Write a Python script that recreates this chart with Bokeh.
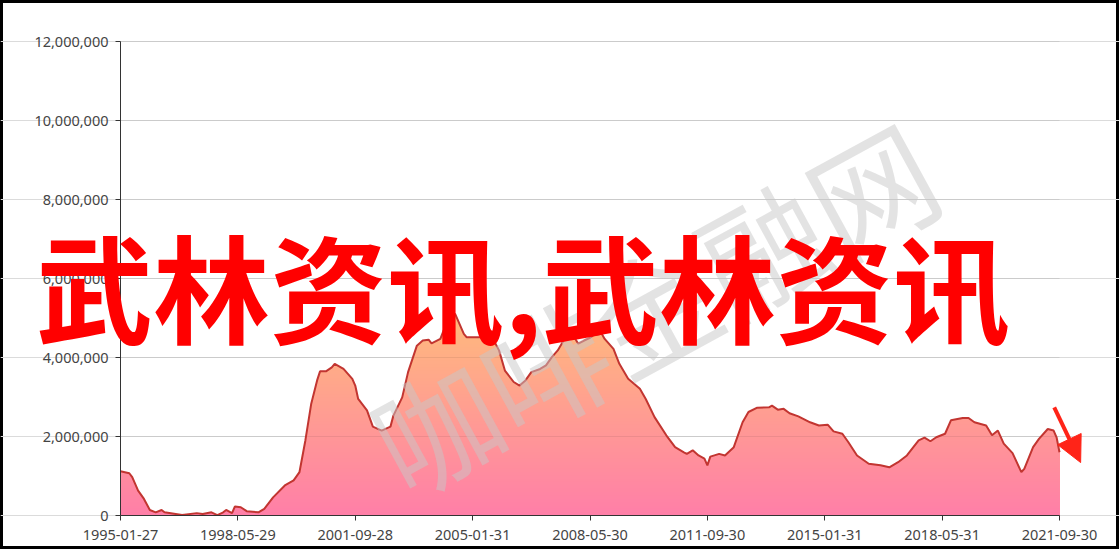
import numpy as np
from bokeh.plotting import figure
from bokeh.models import FixedTicker, NumeralTickFormatter, Label, Arrow, NormalHead
from bokeh.embed import file_html
from bokeh.resources import INLINE

# ---------------- data ----------------
MONTHS = [
    "1995-01", "1995-04", "1995-05", "1995-07", "1995-09", "1995-11", "1996-01", "1996-03", "1996-04", "1996-10",
    "1997-03", "1997-05", "1997-08", "1997-10", "1997-12", "1998-01", "1998-03", "1998-04", "1998-06", "1998-08",
    "1998-12", "1999-02", "1999-05", "1999-09", "1999-12", "2000-02", "2000-04", "2000-06", "2000-08", "2000-09",
    "2000-11", "2001-01", "2001-02", "2001-05", "2001-08", "2001-09", "2001-10", "2002-01", "2002-03", "2002-06",
    "2002-09", "2002-10", "2003-01", "2003-03", "2003-06", "2003-08", "2003-10", "2003-11", "2004-02", "2004-04",
    "2004-07", "2004-10", "2004-11", "2005-05", "2005-07", "2005-10", "2005-12", "2006-03", "2006-05", "2006-07",
    "2006-09", "2006-12", "2007-02", "2007-04", "2007-06", "2007-08", "2007-10", "2007-12", "2008-01", "2008-03",
    "2008-05", "2008-06", "2008-09", "2008-10", "2009-01", "2009-03", "2009-06", "2009-10", "2009-12", "2010-03",
    "2010-07", "2010-10", "2011-01", "2011-02", "2011-04", "2011-06", "2011-08", "2011-09", "2011-10", "2012-01",
    "2012-03", "2012-06", "2012-09", "2012-11", "2013-02", "2013-06", "2013-07", "2013-09", "2013-11", "2014-01",
    "2014-04", "2014-08", "2014-11", "2015-02", "2015-04", "2015-07", "2015-09", "2015-12", "2016-04", "2016-08",
    "2016-11", "2017-02", "2017-05", "2017-09", "2017-11", "2018-01", "2018-03", "2018-06", "2018-08", "2018-12",
    "2019-02", "2019-04", "2019-08", "2019-10", "2019-12", "2020-02", "2020-05", "2020-08", "2020-09", "2020-12",
    "2021-02", "2021-05", "2021-07", "2021-08", "2021-09",
]
VALUES_M = [
    1.12, 1.07, 0.97, 0.63, 0.42, 0.14, 0.08, 0.14, 0.08, 0.01,
    0.06, 0.04, 0.08, 0.01, 0.08, 0.14, 0.06, 0.23, 0.21, 0.11,
    0.08, 0.17, 0.46, 0.76, 0.89, 1.10, 1.90, 2.83, 3.42, 3.65,
    3.65, 3.75, 3.84, 3.71, 3.46, 3.29, 2.95, 2.66, 2.25, 2.15,
    2.25, 2.53, 2.99, 3.63, 4.30, 4.43, 4.45, 4.36, 4.47, 4.85,
    5.11, 4.60, 4.51, 4.51, 4.60, 4.18, 3.67, 3.38, 3.29, 3.42,
    3.63, 3.71, 3.80, 4.01, 4.18, 4.43, 4.56, 4.47, 4.35, 4.43,
    4.50, 4.56, 4.60, 4.47, 4.22, 3.84, 3.46, 3.21, 2.95, 2.49,
    2.03, 1.73, 1.60, 1.56, 1.65, 1.52, 1.44, 1.27, 1.49, 1.56,
    1.52, 1.73, 2.36, 2.62, 2.73, 2.74, 2.78, 2.68, 2.70, 2.59,
    2.51, 2.36, 2.28, 2.30, 2.13, 2.07, 1.86, 1.52, 1.31, 1.27,
    1.22, 1.35, 1.52, 1.90, 1.97, 1.88, 1.98, 2.07, 2.41, 2.47,
    2.47, 2.36, 2.28, 2.03, 2.15, 1.82, 1.58, 1.10, 1.18, 1.73,
    1.94, 2.19, 2.15, 1.98, 1.60,
]
TICK_LABELS = ["1995-01-27", "1998-05-29", "2001-09-28", "2005-01-31", "2008-05-30",
               "2011-09-30", "2015-01-31", "2018-05-31", "2021-09-30"]
Y_TICKS = [0, 2_000_000, 4_000_000, 6_000_000, 8_000_000, 10_000_000, 12_000_000]
TITLE_TEXT = "武林资讯,武林资讯"
WATERMARK_TEXT = "咖啡金融网"

# ---------------- layout (pixels) ----------------
W, H = 1119, 549
PLOT_L, PLOT_R, PLOT_T, PLOT_B = 120, 1059, 41, 515

def month_index(s):
    y, m = s.split("-")
    return (int(y) - 1995) * 12 + int(m) - 1

x = np.array([month_index(s) for s in MONTHS], dtype=float)
v = np.array(VALUES_M) * 1_000_000
n_months = month_index(MONTHS[-1])
y_top = Y_TICKS[-1]
tick_pos = [int(t) for t in np.linspace(0, n_months, len(TICK_LABELS))]

mpp = n_months / (PLOT_R - PLOT_L)          # months per pixel
vpp = y_top / (PLOT_B - PLOT_T)             # value per pixel
x_range = (-PLOT_L * mpp, n_months + (W - PLOT_R) * mpp)
y_range = (-(H - PLOT_B) * vpp, y_top + PLOT_T * vpp)

p = figure(width=W, height=H, output_backend="svg", toolbar_location=None,
           x_range=x_range, y_range=y_range,
           min_border=0, background_fill_color="white", border_fill_color="white")
p.outline_line_color = "black"
p.outline_line_width = 5

# gradient-filled area (opaque bands, painter's order)
top_rgb = np.array([255, 187, 124])
bot_rgb = np.array([255, 126, 168])
vmax = v.max()
N = 60
for k in range(N, 0, -1):
    hi = vmax * k / N
    t = (k - 0.5) / N
    c = bot_rgb + (top_rgb - bot_rgb) * t
    col = "#%02x%02x%02x" % tuple(int(round(q)) for q in c)
    p.varea(x=x, y1=np.zeros_like(v), y2=np.minimum(v, hi), fill_color=col, fill_alpha=1.0)

# faint grid lines seen through the semi-transparent fill
gy = np.array(Y_TICKS[1:], dtype=float)
p.segment(x0=np.zeros_like(gy), y0=gy, x1=np.full_like(gy, n_months), y1=gy,
          line_color="black", line_alpha=0.07, line_width=1)

p.line(x, v, line_color="#c23531", line_width=2)

# axes placed at data locations inside the full-canvas frame
p.xaxis.fixed_location = 0
p.yaxis.fixed_location = 0
p.xaxis.bounds = (0, n_months)
p.yaxis.bounds = (0, y_top)
p.xaxis.ticker = FixedTicker(ticks=tick_pos)
p.xaxis.major_label_overrides = {tp: lab for tp, lab in zip(tick_pos, TICK_LABELS)}
p.yaxis.ticker = FixedTicker(ticks=Y_TICKS)
p.yaxis.formatter = NumeralTickFormatter(format="0,0")
for ax in (p.xaxis[0], p.yaxis[0]):
    ax.axis_line_color = "#333333"
    ax.major_tick_line_color = "#333333"
    ax.minor_tick_line_color = None
    ax.major_tick_out = 5
    ax.major_tick_in = 0
    ax.major_label_text_font = "Noto Sans"
    ax.major_label_text_font_size = "14.5px"
    ax.major_label_text_color = "#444444"
p.yaxis.major_label_standoff = 7
p.xaxis.major_label_standoff = 9
p.xgrid.visible = False
p.ygrid.grid_line_color = "#dbdbdb"
p.ygrid.grid_line_width = 1
p.ygrid.bounds = (0, n_months)

# watermark
p.add_layout(Label(x=181.3, y=5_330_000, text=WATERMARK_TEXT, angle=0.50,
                   text_font="Noto Sans CJK SC", text_font_size="124px",
                   text_color="#c8c8c8", text_alpha=0.5,
                   text_align="center", text_baseline="middle"))

# big red overlay text
p.add_layout(Label(x=137.2, y=5_860_000, text=TITLE_TEXT,
                   text_font="Noto Sans CJK SC", text_font_style="bold", text_font_size="117px",
                   text_color="#ff0000", text_align="center", text_baseline="middle"))

# red arrow at the right
p.add_layout(Arrow(x_start=318.2, y_start=2_740_000, x_end=327.2, y_end=1_340_000,
                   line_color="#ff2418", line_width=4,
                   end=NormalHead(size=26, fill_color="#ff2418", line_color="#ff2418")))

open("out.html", "w").write(file_html(p, INLINE))
